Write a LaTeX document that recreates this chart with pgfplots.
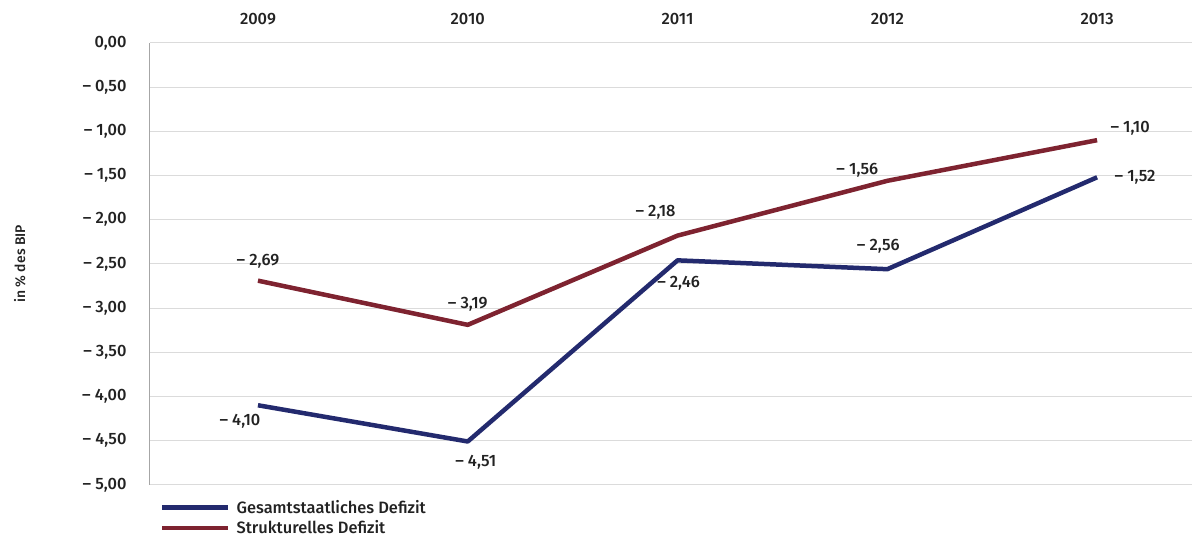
\documentclass[border=0pt]{standalone}
\usepackage{pgfplots}
\pgfplotsset{compat=1.18}
\usepackage{fontspec}
\setmainfont{Fira Sans Medium}
\definecolor{navy}{HTML}{232A6E}
\definecolor{wine}{HTML}{7E2330}
\definecolor{txt}{HTML}{222222}
\newcommand{\lbl}{\fontsize{16.5}{18}\selectfont}
\begin{document}
\begin{tikzpicture}
\begin{axis}[
  at={(0,0)}, anchor=south west,
  scale only axis, width=1042bp, height=442bp,
  xmin=2008.485, xmax=2013.45, ymin=-5, ymax=0,
  axis line style={draw=none},
  tick style={draw=none},
  xtick={2009,2010,2011,2012,2013},
  xticklabels={2009,2010,2011,2012,2013},
  xticklabel pos=upper,
  xticklabel style={font=\lbl, text=txt, yshift=15bp},
  ytick={0,-0.5,-1,-1.5,-2,-2.5,-3,-3.5,-4,-4.5,-5},
  yticklabels={{0,00},{– 0,50},{– 1,00},{– 1,50},{– 2,00},{– 2,50},{– 3,00},{– 3,50},{– 4,00},{– 4,50},{– 5,00}},
  yticklabel style={font=\lbl, text=txt, xshift=-20bp},
  ymajorgrids, grid style={black!14, line width=1bp},
  ylabel={in \% des BIP},
  ylabel style={at={(axis description cs:-0.125,0.5)}, anchor=center, rotate=0, font=\fontsize{14}{16}\selectfont, text=txt},
  legend style={at={(rel axis cs:0.0096,-0.03)}, anchor=north west, draw=none, fill=none,
    font=\lbl, text=txt, row sep=2bp, inner sep=0pt,
    nodes={inner xsep=6bp}},
  legend cell align=left,
  legend image code/.code={\draw[#1, line width=4.5bp] (0bp,0bp) -- (66bp,0bp);},
  clip=false,
]
\draw[black!35, line width=1bp] (rel axis cs:0,0) -- (rel axis cs:0,1);
\addplot[navy, line width=4.5bp, line join=round] coordinates {(2009,-4.10) (2010,-4.51) (2011,-2.46) (2012,-2.56) (2013,-1.52)};
\addlegendentry{Gesamtstaatliches Defizit}
\addplot[wine, line width=4.5bp, line join=round] coordinates {(2009,-2.69) (2010,-3.19) (2011,-2.18) (2012,-1.56) (2013,-1.10)};
\addlegendentry{Strukturelles Defizit}
\begin{scope}[every node/.style={font=\lbl, text=txt}]
\node at (axis cs:2009,-2.69) [yshift=19bp] {– 2,69};
\node at (axis cs:2010,-3.19) [yshift=21bp] {– 3,19};
\node at (axis cs:2011,-2.18) [xshift=-22bp, yshift=23bp] {– 2,18};
\node at (axis cs:2012,-1.56) [xshift=-30bp, yshift=11bp] {– 1,56};
\node at (axis cs:2013,-1.10) [xshift=33bp, yshift=12bp] {– 1,10};
\node at (axis cs:2009,-4.10) [xshift=-18bp, yshift=-16bp] {– 4,10};
\node at (axis cs:2010,-4.51) [xshift=8bp, yshift=-21bp] {– 4,51};
\node at (axis cs:2011,-2.46) [xshift=1bp, yshift=-23bp] {– 2,46};
\node at (axis cs:2012,-2.56) [xshift=-9bp, yshift=23bp] {– 2,56};
\node at (axis cs:2013,-1.52) [xshift=38bp, yshift=0bp] {– 1,52};
\end{scope}
\end{axis}
\path (-150bp,-51bp) rectangle (1042bp,485bp);
\end{tikzpicture}
\end{document}
